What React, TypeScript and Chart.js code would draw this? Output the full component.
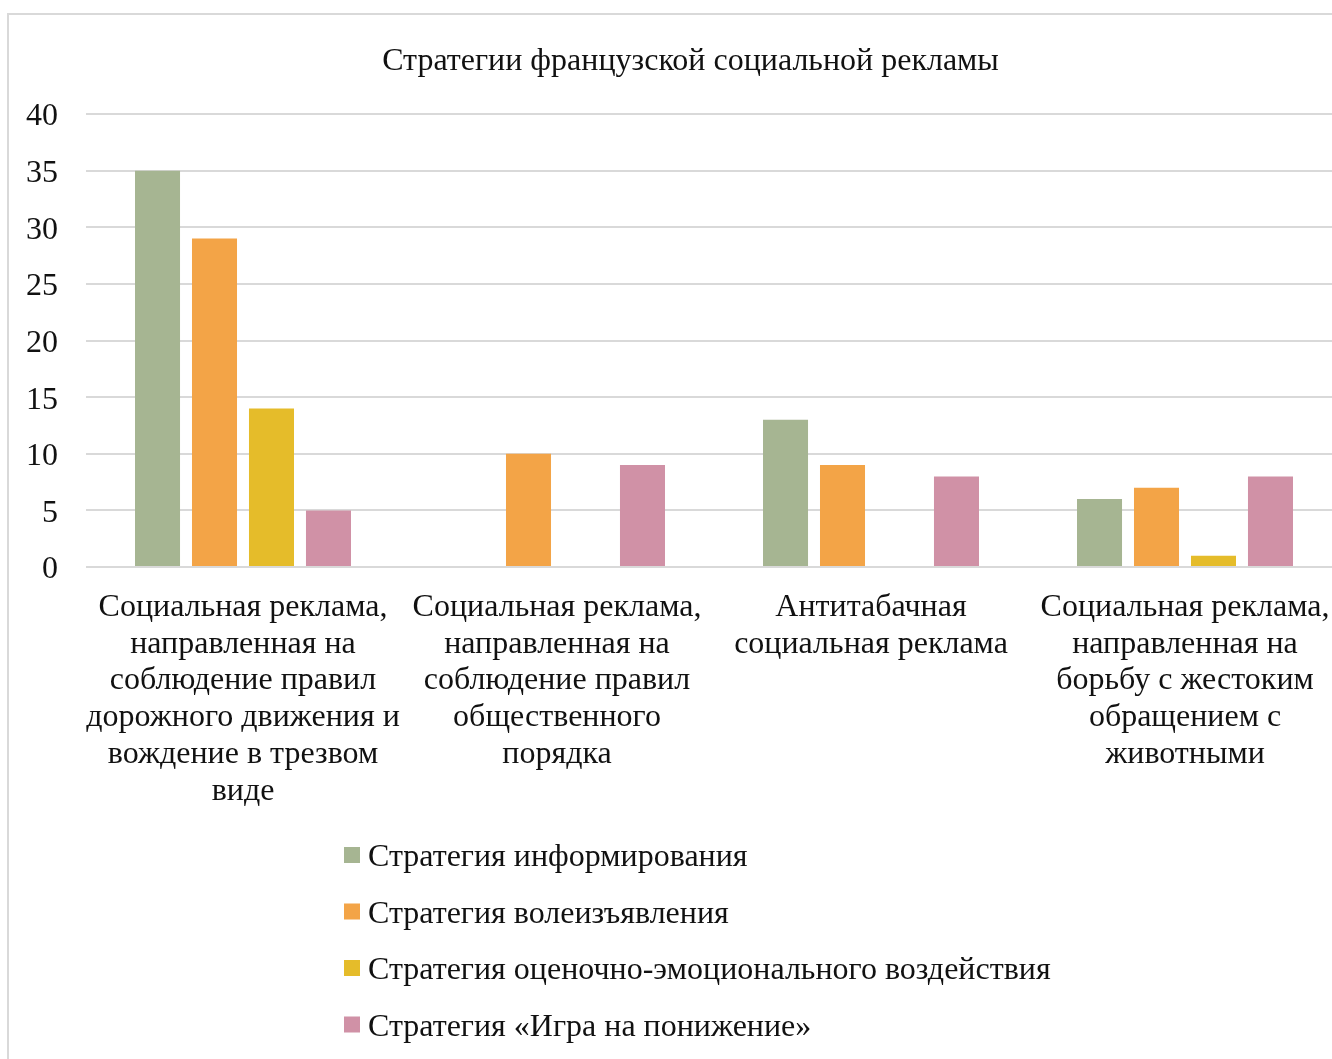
import React, { useEffect, useRef } from "react";
import { Chart, registerables } from "chart.js";

Chart.register(...registerables);

const TITLE = "Стратегии французской социальной рекламы";

const categories: string[][] = [
  ["Социальная реклама,", "направленная на", "соблюдение правил", "дорожного движения и", "вождение в трезвом", "виде"],
  ["Социальная реклама,", "направленная на", "соблюдение правил", "общественного", "порядка"],
  ["Антитабачная", "социальная реклама"],
  ["Социальная реклама,", "направленная на", "борьбу с жестоким", "обращением с", "животными"],
];

const seriesNames = [
  "Стратегия информирования",
  "Стратегия волеизъявления",
  "Стратегия оценочно-эмоционального воздействия",
  "Стратегия «Игра на понижение»",
];

const informing = [35, 0, 13, 6];
const volition = [29, 10, 9, 7];
const emotional = [14, 0, 0, 1];
const playDown = [5, 9, 8, 8];

const seriesColors = ["#A6B592", "#F3A447", "#E5BC2A", "#D091A6"];

const yMin = 0;
const yMax = 40;
const yStep = 5;

const FONT = "'Liberation Serif', 'Times New Roman', serif";
const FONT_SIZE = 32;
const TEXT_COLOR = "#111111";
const GRID_COLOR = "#D9D9D9";

const CANVAS_W = 1370;
const CANVAS_H = 1060;

const legendPlugin = {
  id: "verticalLegend",
  afterDraw(chart: any) {
    const { ctx, chartArea } = chart;
    const datasets = chart.data.datasets;
    ctx.save();
    ctx.font = `${FONT_SIZE}px ${FONT}`;
    ctx.fillStyle = TEXT_COLOR;
    ctx.textBaseline = "alphabetic";
    ctx.textAlign = "left";
    const boxX = 335;
    const textX = 359;
    const firstBoxTop = chartArea.bottom + 280;
    const firstBaseline = chartArea.bottom + 299;
    const rowStep = 56.5;
    datasets.forEach((ds: any, i: number) => {
      ctx.fillStyle = ds.backgroundColor;
      ctx.fillRect(boxX, firstBoxTop + i * rowStep, 16, 16);
      ctx.fillStyle = TEXT_COLOR;
      ctx.fillText(ds.label, textX, firstBaseline + i * rowStep);
    });
    ctx.restore();
  },
};

export default function App() {
  const canvasRef = useRef<HTMLCanvasElement | null>(null);

  useEffect(() => {
    if (!canvasRef.current) return;
    const seriesValues = [informing, volition, emotional, playDown];
    const chart = new Chart(canvasRef.current, {
      type: "bar",
      data: {
        labels: categories,
        datasets: seriesNames.map((name, i) => ({
          label: name,
          data: seriesValues[i],
          backgroundColor: seriesColors[i],
          borderWidth: 0,
          categoryPercentage: 0.726,
          barPercentage: 0.79,
        })),
      },
      options: {
        animation: false,
        responsive: false,
        maintainAspectRatio: false,
        layout: {
          padding: { left: 0, right: 7, top: 0, bottom: 258 },
        },
        plugins: {
          legend: { display: false },
          tooltip: { enabled: false },
          title: {
            display: true,
            text: TITLE,
            color: TEXT_COLOR,
            font: { family: FONT, size: FONT_SIZE, weight: "normal", lineHeight: 1.2 },
            padding: { top: 27, bottom: 33.6 },
          },
        },
        scales: {
          x: {
            grid: { display: false, drawTicks: false },
            border: { display: false },
            ticks: {
              autoSkip: false,
              maxRotation: 0,
              minRotation: 0,
              color: TEXT_COLOR,
              padding: 22,
              font: { family: FONT, size: FONT_SIZE, lineHeight: 1.15 },
            },
            afterFit(scale: any) {
              scale.height = 250;
            },
          },
          y: {
            min: yMin,
            max: yMax,
            grid: { color: GRID_COLOR, lineWidth: 2, drawTicks: false },
            border: { display: false },
            ticks: {
              stepSize: yStep,
              color: TEXT_COLOR,
              padding: 28,
              labelOffset: 3,
              font: { family: FONT, size: FONT_SIZE },
            },
            afterFit(scale: any) {
              scale.width = 77;
            },
          },
          yRightSpace: {
            type: "linear",
            position: "right",
            display: true,
            min: yMin,
            max: yMax,
            grid: { display: false, drawTicks: false },
            border: { display: false },
            ticks: { display: false },
            afterFit(scale: any) {
              scale.width = 30;
            },
          },
        },
      },
      plugins: [legendPlugin],
    });
    return () => chart.destroy();
  }, []);

  return (
    <div
      style={{
        position: "fixed",
        left: 0,
        top: 0,
        width: 1332,
        height: 1059,
        overflow: "hidden",
        background: "#ffffff",
      }}
    >
      <div
        style={{
          position: "absolute",
          left: 7,
          top: 13,
          width: CANVAS_W,
          height: CANVAS_H,
          borderLeft: `2px solid ${GRID_COLOR}`,
          borderTop: `2px solid ${GRID_COLOR}`,
        }}
      >
        <canvas ref={canvasRef} width={CANVAS_W} height={CANVAS_H} style={{ display: "block" }} />
      </div>
    </div>
  );
}
